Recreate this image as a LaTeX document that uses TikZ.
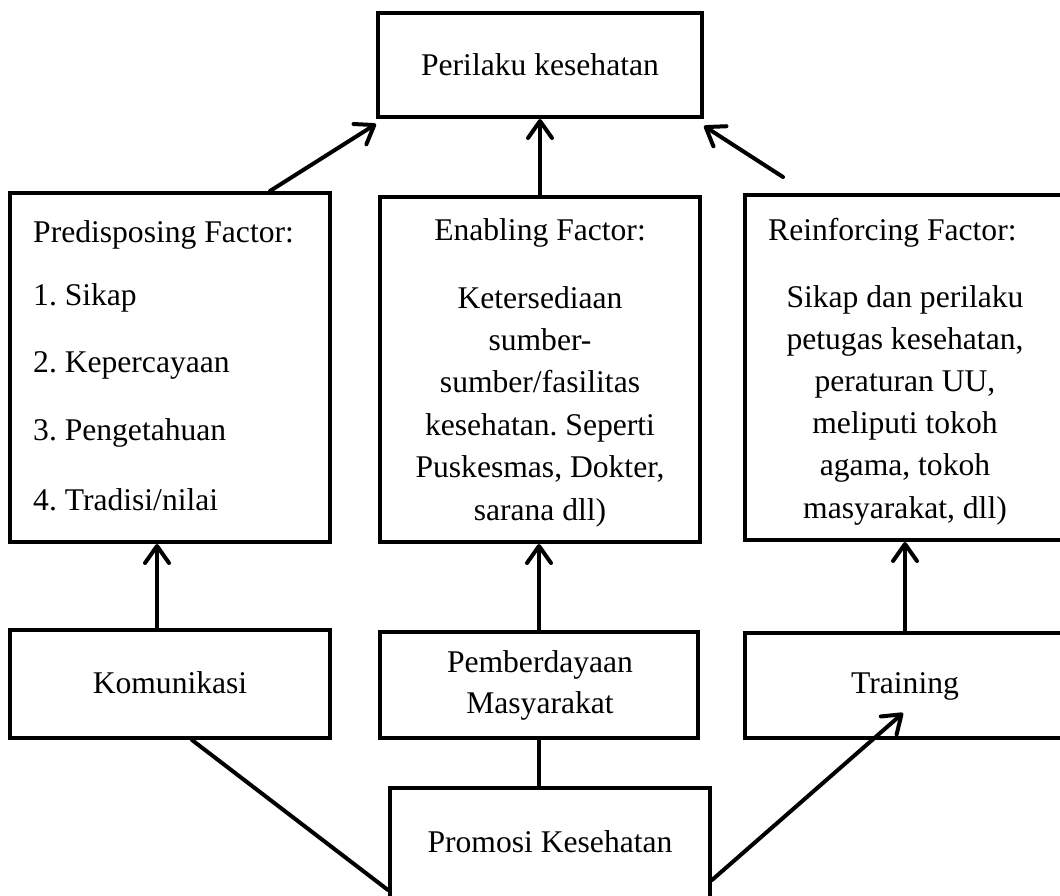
\documentclass[tikz,border=0pt]{standalone}
\usepackage{fontspec}
\setmainfont{Liberation Serif}
\usetikzlibrary{arrows.meta,calc}
\frenchspacing
\tikzset{
  box/.style={draw=black, line width=4pt, fill=white, inner sep=0pt, rectangle},
  txt/.style={inner sep=0pt, anchor=base, font=\fontsize{31.6}{42.4}\selectfont\frenchspacing},
  txtl/.style={txt, anchor=base west},
  conn/.style={line width=4pt, line cap=round},
  arr/.style={conn, -{Straight Barb[length=17pt,width=24pt,round]}}
}
\begin{document}
\begin{tikzpicture}[x=1pt,y=-1pt]
\clip (0,0) rectangle (1060,895);
\fill[white] (0,0) rectangle (1060,895);
% boxes
\node[box, minimum width=324pt, minimum height=104pt] (top) at (540,65) {};
\node[box, minimum width=320pt, minimum height=349pt] (pred) at (170,367.5) {};
\node[box, minimum width=320pt, minimum height=345pt] (enab) at (540,369.5) {};
\node[box, minimum width=320pt, minimum height=345pt] (reinf) at (905,367.5) {};
\node[box, minimum width=320pt, minimum height=108pt] (kom) at (170,684) {};
\node[box, minimum width=318pt, minimum height=106pt] (pem) at (539,685) {};
\node[box, minimum width=320pt, minimum height=105pt] (tra) at (905,685.5) {};
\node[box, minimum width=320pt, minimum height=132pt] (pro) at (550,854) {};
% texts
\node[txt] (ttop) at (540,75) {Perilaku kesehatan};
\node[txtl] (p0) at (33,242) {Predisposing Factor:};
\node[txtl] (p1) at (33,305) {1. Sikap};
\node[txtl] (p2) at (33,372) {2. Kepercayaan};
\node[txtl] (p3) at (33,440) {3. Pengetahuan};
\node[txtl] (p4) at (33,510) {4. Tradisi/nilai};
\node[txt] (e0) at (540,240) {Enabling Factor:};
\node[txt] (e1) at (540,308) {Ketersediaan};
\node[txt] (e2) at (540,350.4) {sumber-};
\node[txt] (e3) at (540,392.8) {sumber/fasilitas};
\node[txt] (e4) at (540,435.2) {kesehatan. Seperti};
\node[txt] (e5) at (540,477.6) {Puskesmas, Dokter,};
\node[txt] (e6) at (540,520) {sarana dll)};
\node[txtl] (r0) at (768,240) {Reinforcing Factor:};
\node[txt] (r1) at (905,307) {Sikap dan perilaku};
\node[txt] (r2) at (905,349.2) {petugas kesehatan,};
\node[txt] (r3) at (905,391.4) {peraturan UU,};
\node[txt] (r4) at (905,433.6) {meliputi tokoh};
\node[txt] (r5) at (905,475.8) {agama, tokoh};
\node[txt] (r6) at (905,518) {masyarakat, dll)};
\node[txt] (tk) at (170,693) {Komunikasi};
\node[txt] (tp1) at (540,672) {Pemberdayaan};
\node[txt] (tp2) at (540,713) {Masyarakat};
\node[txt] (tt) at (905,693) {Training};
\node[txt] (tpro) at (550,852) {Promosi Kesehatan};
% connectors
\coordinate (c1) at (783,177);
\coordinate (c2) at (903,713);
\draw[arr] ([xshift=100pt]pred.north) -- ([yshift=-5pt]top.south west);
\draw[arr] (enab.north) -- (top.south);
\draw[arr] (c1) -- ([yshift=-7pt]top.south east);
\draw[arr] ([xshift=-13pt]kom.north) -- ([xshift=-13pt]pred.south);
\draw[arr] (pem.north) -- (pem.north |- enab.south);
\draw[arr] (tra.north) -- (reinf.south);
\draw[conn] ([xshift=22pt]kom.south) -- ([yshift=-36pt]pro.west);
\draw[conn] (pem.south) -- (pem.south |- pro.north);
\draw[arr] ([yshift=-26pt]pro.east) -- (c2);
\end{tikzpicture}
\end{document}
